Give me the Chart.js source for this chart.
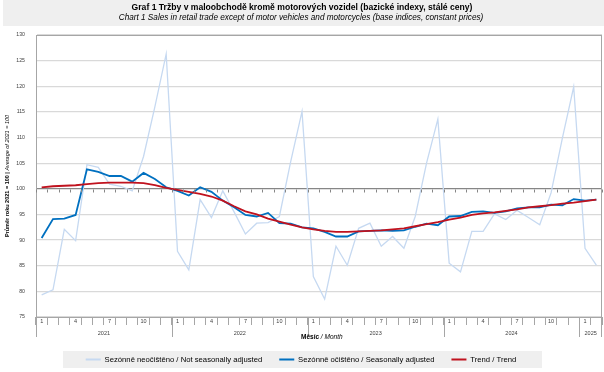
<!DOCTYPE html>
<html>
<head>
<meta charset="utf-8">
<script src="https://cdn.jsdelivr.net/npm/chart.js@4.4.1/dist/chart.umd.min.js"></script>
<style>
  html, body { margin: 0; padding: 0; background: #fff; }
  canvas { display: block; }
</style>
</head>
<body>
<canvas id="salesChart" width="604" height="372"></canvas>
<script>
// months 2021-01 .. 2025-02
var years = ['2021', '2022', '2023', '2024', '2025'];
var months = [];
for (var y = 0; y < years.length; y++) {
    for (var m = 1; m <= 12; m++) {
        if (y === 4 && m > 2) break;
        months.push(String(m));
    }
}

var notAdjusted = [
    79.3, 80.3, 92.1, 89.9, 104.7, 104.2, 100.9, 100.5, 99.6, 106.3, 116.0, 126.3,
    87.8, 84.2, 97.9, 94.4, 99.6, 95.5, 91.2, 93.3, 93.4, 94.6, 105.3, 115.1,
    82.9, 78.5, 88.8, 85.1, 92.3, 93.3, 88.8, 90.7, 88.4, 94.6, 105.0, 113.6,
    85.5, 83.8, 91.7, 91.7, 95.1, 94.0, 95.8, 94.4, 93.0, 99.2, 109.9, 119.9,
    88.4, 85.1
];
var seasAdjusted = [
    90.4, 94.1, 94.2, 94.9, 103.8, 103.3, 102.5, 102.5, 101.4, 103.1, 101.9, 100.3,
    99.6, 98.7, 100.3, 99.4, 97.7, 96.4, 94.9, 94.6, 95.3, 93.3, 93.2, 92.5,
    92.3, 91.6, 90.7, 90.7, 91.7, 91.8, 91.9, 91.8, 91.9, 92.6, 93.2, 92.9,
    94.6, 94.7, 95.5, 95.6, 95.3, 95.6, 96.2, 96.4, 96.4, 96.9, 96.8, 98.0,
    97.7, 97.9
];
var trend = [
    100.3, 100.5, 100.6, 100.7, 100.9, 101.1, 101.2, 101.2, 101.2, 101.1, 100.7, 100.2,
    99.8, 99.4, 99.0, 98.5, 97.7, 96.6, 95.6, 95.0, 94.2, 93.6, 93.0, 92.5,
    92.1, 91.8, 91.6, 91.6, 91.7, 91.8, 91.9, 92.1, 92.3, 92.7, 93.1, 93.5,
    94.0, 94.4, 94.9, 95.2, 95.4, 95.7, 96.0, 96.4, 96.6, 96.8, 97.1, 97.3,
    97.6, 97.9
];
var shownMonths = ['1', '4', '7', '10'];

var FONT = '"Liberation Sans", Arial, sans-serif';

var decor = {
    id: 'decor',
    beforeDraw: function(chart) {
        var c = chart.ctx;
        c.save();
        c.fillStyle = '#ffffff';
        c.fillRect(0, 0, chart.width, chart.height);
        c.fillStyle = '#efefef';
        c.fillRect(3, 0, chart.width - 3, 26);
        c.fillStyle = '#efefef';
        c.fillRect(63, 351, 479, 17);
        // titles
        c.fillStyle = '#000';
        c.textAlign = 'center';
        c.textBaseline = 'middle';
        c.font = 'bold 8.6px ' + FONT;
        c.fillText('Graf 1 Tržby v maloobchodě kromě motorových vozidel (bazické indexy, stálé ceny)', 302, 8);
        c.font = 'italic 8.2px ' + FONT;
        c.fillText('Chart 1 Sales in retail trade except of motor vehicles and motorcycles (base indices, constant prices)', 301, 17.5);
        c.restore();
    },
    afterDraw: function(chart) {
        var c = chart.ctx, a = chart.chartArea;
        var xs = chart.scales.x, ys = chart.scales.y;
        var step = xs.getPixelForValue(1) - xs.getPixelForValue(0);
        c.save();
        // plot border
        c.strokeStyle = '#a6a6a6';
        c.lineWidth = 1;
        c.strokeRect(a.left + 0.5, a.top + 0.5, a.right - a.left - 1, a.bottom - a.top);
        // axis crossing at 100 with tick marks
        var y100 = Math.round(ys.getPixelForValue(100)) + 0.5;
        c.strokeStyle = '#868686';
        c.beginPath();
        for (var i = 0; i <= months.length; i++) {
            var tx = Math.round(xs.getPixelForValue(i) - step / 2) + 0.5;
            c.moveTo(tx, y100);
            c.lineTo(tx, y100 + 3);
        }
        c.stroke();
        // year groups
        c.strokeStyle = '#a6a6a6';
        c.fillStyle = '#404040';
        c.font = '5.5px ' + FONT;
        c.textAlign = 'center';
        c.textBaseline = 'middle';
        var start = 0;
        c.beginPath();
        for (var k = 0; k < years.length; k++) {
            var n = (k === years.length - 1) ? months.length - start : 12;
            var x0 = xs.getPixelForValue(start) - step / 2;
            var x1 = xs.getPixelForValue(start + n - 1) + step / 2;
            c.moveTo(Math.round(x0) + 0.5, a.bottom);
            c.lineTo(Math.round(x0) + 0.5, a.bottom + 20);
            if (k === years.length - 1) {
                c.moveTo(Math.round(x1) - 0.5, a.bottom);
                c.lineTo(Math.round(x1) - 0.5, a.bottom + 20);
            }
            c.fillText(years[k], (x0 + x1) / 2, a.bottom + 16);
            start += n;
        }
        c.stroke();
        // axis titles
        c.fillStyle = '#000';
        c.textAlign = 'left';
        c.font = 'bold 6.5px ' + FONT;
        var t1 = 'Měsíc ';
        c.fillText(t1, 301, 337);
        var w1 = c.measureText(t1).width;
        c.font = 'italic 6.5px ' + FONT;
        c.fillText('/ Month', 301 + w1, 337);

        c.translate(7.5, (a.top + a.bottom) / 2);
        c.rotate(-Math.PI / 2);
        c.font = 'bold 5.5px ' + FONT;
        var p1 = 'Průměr roku 2021 = 100 | ';
        var p2 = 'Average of 2021 = 100';
        var wa = c.measureText(p1).width;
        c.font = 'italic 5.5px ' + FONT;
        var wb = c.measureText(p2).width;
        var sx = -(wa + wb) / 2;
        c.font = 'bold 5.5px ' + FONT;
        c.fillText(p1, sx, 0);
        c.font = 'italic 5.5px ' + FONT;
        c.fillText(p2, sx + wa, 0);
        c.restore();
    }
};

var ctx = document.getElementById('salesChart');

var salesChart = new Chart(ctx, {
    type: 'line',
    data: {
        labels: months,
        datasets: [{
            label: 'Sezónně neočištěno / Not seasonally adjusted',
            data: notAdjusted,
            borderColor: '#c6d9f1',
            backgroundColor: '#c6d9f1',
            borderWidth: 1.3,
            order: 3
        }, {
            label: 'Sezónně očištěno / Seasonally adjusted',
            data: seasAdjusted,
            borderColor: '#0070c0',
            backgroundColor: '#0070c0',
            borderWidth: 1.8,
            order: 2
        }, {
            label: 'Trend / Trend',
            data: trend,
            borderColor: '#c0121e',
            backgroundColor: '#c0121e',
            borderWidth: 1.8,
            order: 1
        }]
    },
    options: {
        responsive: false,
        animation: false,
        events: [],
        elements: {
            point: { radius: 0 },
            line: { tension: 0, fill: false }
        },
        layout: {
            padding: { top: 35, right: 2, left: 0, bottom: -1.3 }
        },
        scales: {
            x: {
                type: 'category',
                offset: true,
                grid: {
                    offset: true,
                    drawOnChartArea: false,
                    tickLength: 8,
                    color: '#a6a6a6'
                },
                border: { display: false },
                ticks: {
                    autoSkip: false,
                    maxRotation: 0,
                    padding: -7,
                    color: '#404040',
                    font: { family: FONT, size: 5.5 },
                    callback: function(v) {
                        var l = this.getLabelForValue(v);
                        return shownMonths.indexOf(l) >= 0 ? l : '';
                    }
                },
                afterFit: function(s) { s.height = 21.6; }
            },
            y: {
                min: 75,
                max: 130,
                ticks: {
                    stepSize: 5,
                    padding: 11,
                    color: '#404040',
                    font: { family: FONT, size: 5.2 }
                },
                grid: {
                    drawTicks: false,
                    lineWidth: 1.2,
                    color: function(c) {
                        return c.tick && c.tick.value === 100 ? '#868686' : '#d9d9d9';
                    }
                },
                border: { display: true, color: '#a6a6a6' },
                afterFit: function(s) { s.width = 36; }
            }
        },
        plugins: {
            legend: {
                position: 'bottom',
                labels: {
                    boxWidth: 15,
                    boxHeight: 2,
                    padding: 17,
                    color: '#000',
                    font: { family: FONT, size: 7.7 },
                    sort: function(a, b) { return a.datasetIndex - b.datasetIndex; },
                    generateLabels: function(chart) {
                        var items = Chart.defaults.plugins.legend.labels.generateLabels(chart);
                        items.forEach(function(it) {
                            it.fillStyle = it.strokeStyle;
                            it.lineWidth = 0;
                        });
                        return items;
                    }
                }
            },
            title: { display: false },
            tooltip: { enabled: false }
        }
    },
    plugins: [decor]
});
</script>
</body>
</html>
